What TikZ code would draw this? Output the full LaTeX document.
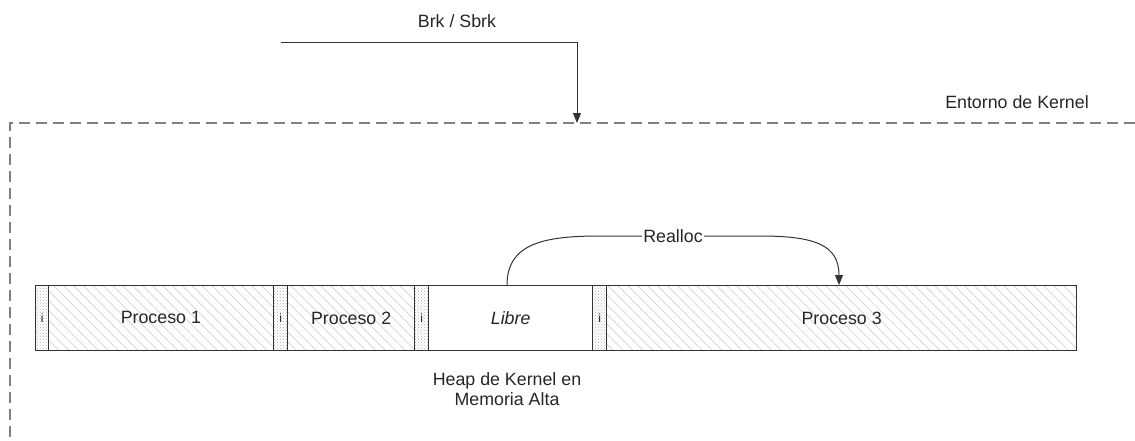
\documentclass[tikz,border=0pt]{standalone}
\usepackage{fontspec}
\setmainfont{Liberation Sans}
\usetikzlibrary{arrows.meta,patterns,patterns.meta,calc}
\definecolor{edge}{HTML}{333333}
\definecolor{hatch}{HTML}{D2D2D2}
\definecolor{dashgray}{HTML}{808080}
\begin{document}
\begin{tikzpicture}[x=1pt,y=-1pt,
  every node/.style={font=\fontsize{17.8}{20}\selectfont, text=black!85},
  seg/.style={draw=edge, line width=1.3pt, minimum height=65pt, inner sep=0pt, anchor=north west},
  proc/.style={seg, pattern={Lines[angle=-45,distance=7pt,line width=0.7pt]}, pattern color=hatch},
  hdr/.style={seg, minimum width=14pt, pattern=crosshatch dots, pattern color=black!30, font=\fontsize{12}{13}\selectfont},
  kdash/.style={draw=dashgray, line width=1.8pt, dash pattern=on 11pt off 6pt},
  arr/.style={draw=edge, line width=1pt, -{Triangle[width=8pt,length=10pt]}}
]
\useasboundingbox (0,0) rectangle (1135,440);
% kernel boundary
\coordinate (kl) at (10,123);
\coordinate (kr) at (1135,123);
\coordinate (kb) at (10,440);
\draw[kdash] (kr) -- (kl) -- (kb);
\node (kname) at (1017,102) {Entorno de Kernel};
% memory bar
\node[hdr, minimum width=13pt] (h1) at (35,285) {i};
\node[proc, minimum width=225pt] (p1) at (48,285) {Proceso 1};
\node[hdr] (h2) at (273,285) {i};
\node[proc, minimum width=127pt] (p2) at (287,285) {Proceso 2};
\node[hdr] (h3) at (414,285) {i};
\node[seg, fill=white, minimum width=164pt] (libre) at (428,285) {\itshape Libre};
\node[hdr] (h4) at (592,285) {i};
\node[proc, minimum width=470pt] (p3) at (606,285) {Proceso 3};
\node[align=center] (heap) at (507,389) {Heap de Kernel en\\Memoria Alta};
% Brk / Sbrk
\coordinate (bs) at (281,42);
\coordinate (bc) at (577,42);
\coordinate (be) at (577,123);
\node (brk) at (457,21) {Brk / Sbrk};
\draw[arr] (bs) -- (bc) -- (be);
% Realloc
\coordinate (rs) at ($(libre.north west)+(79,0)$);
\coordinate (re) at ($(p3.north west)+(233,0)$);
\draw[arr] (rs) .. controls +(0,-42) and (545,236) .. (600,236) -- (760,236) .. controls (815,236) and ($(re)+(0,-40)$) .. (re);
\node[fill=white, inner sep=1pt] (realloc) at (673,236) {Realloc};
\end{tikzpicture}
\end{document}
